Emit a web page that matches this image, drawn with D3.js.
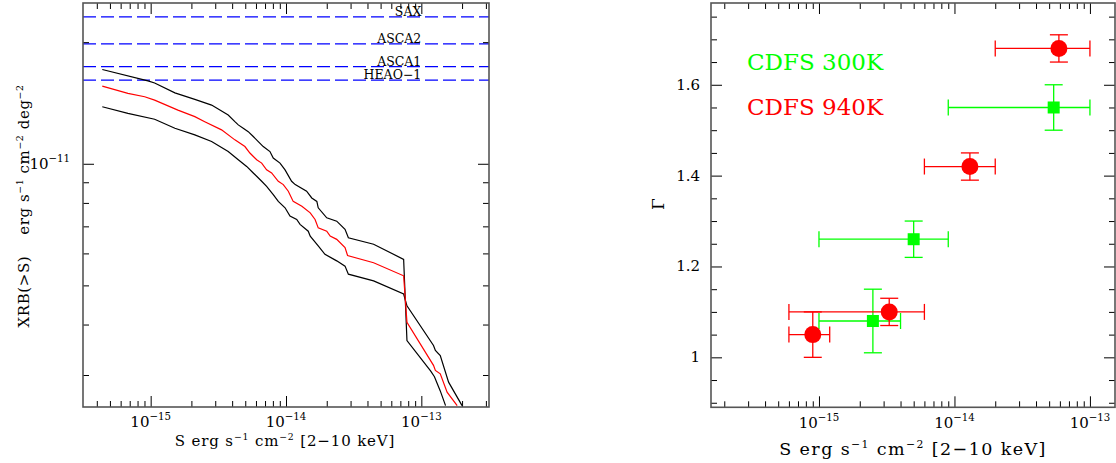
<!DOCTYPE html>
<html>
<head>
<meta charset="utf-8">
<script src="https://cdn.jsdelivr.net/npm/d3@7"></script>
<style>
body { margin: 0; background: #fff; }
text { font-family: "DejaVu Serif", serif; fill: #000; }
</style>
</head>
<body>
<div id="chart"></div>
<script>
// ---- left panel: resolved XRB(>S), values of XRB in units of 1e-11 erg/s/cm2/deg2
var XRB_UNIT = 1e-11;

var hiS = [4.39e-16, 9.55e-16, 1.07e-15, 1.51e-15, 2.12e-15, 2.82e-15, 3.74e-15, 4.19e-15, 4.44e-15, 4.83e-15,
    5.26e-15, 5.73e-15, 6.24e-15, 6.79e-15, 7.61e-15, 8.05e-15, 9.03e-15, 9.84e-15, 1.10e-14, 1.17e-14,
    1.42e-14, 1.55e-14, 1.69e-14, 1.73e-14, 2.00e-14, 2.37e-14, 2.73e-14, 2.89e-14, 4.44e-14, 7.40e-14,
    7.83e-14, 1.17e-13, 1.25e-13, 1.38e-13, 1.51e-13];
var hiXRB = [1.711, 1.604, 1.585, 1.498, 1.443, 1.397, 1.320, 1.271, 1.248, 1.224,
    1.201, 1.168, 1.135, 1.103, 1.072, 1.033, 1.004, 0.966, 0.905, 0.888,
    0.855, 0.823, 0.807, 0.778, 0.735, 0.721, 0.688, 0.656, 0.632, 0.580,
    0.365, 0.307, 0.297, 0.274, 0.252];

var midS = [4.39e-16, 6.79e-16, 9.03e-16, 1.07e-15, 1.59e-15, 2.12e-15, 2.51e-15, 3.34e-15, 4.19e-15, 4.97e-15,
    5.41e-15, 6.07e-15, 6.61e-15, 7.19e-15, 7.83e-15, 8.77e-15, 9.55e-15, 1.04e-14, 1.13e-14, 1.31e-14,
    1.51e-14, 1.64e-14, 1.73e-14, 2.00e-14, 2.12e-14, 2.37e-14, 2.73e-14, 2.85e-14, 4.44e-14, 7.40e-14,
    7.83e-14, 1.23e-13, 1.27e-13, 1.38e-13, 1.55e-13, 1.84e-13];
var midXRB = [1.556, 1.493, 1.465, 1.437, 1.358, 1.308, 1.271, 1.213, 1.146, 1.103,
    1.063, 1.023, 1.004, 0.966, 0.949, 0.905, 0.888, 0.855, 0.807, 0.785,
    0.756, 0.728, 0.694, 0.681, 0.662, 0.650, 0.620, 0.593, 0.569, 0.528,
    0.405, 0.317, 0.308, 0.302, 0.272, 0.252];

var loS = [4.39e-16, 6.79e-16, 1.07e-15, 1.51e-15, 2.12e-15, 2.82e-15, 3.74e-15, 4.44e-15, 5.12e-15, 5.73e-15,
    6.61e-15, 7.19e-15, 8.05e-15, 8.77e-15, 9.84e-15, 1.07e-14, 1.20e-14, 1.27e-14, 1.46e-14, 1.51e-14,
    1.73e-14, 1.94e-14, 2.37e-14, 2.73e-14, 2.89e-14, 4.44e-14, 7.40e-14, 7.83e-14, 1.23e-13, 1.27e-13,
    1.38e-13, 1.59e-13, 2.00e-13];
var loXRB = [1.384, 1.333, 1.289, 1.224, 1.179, 1.135, 1.072, 1.023, 0.985, 0.949,
    0.905, 0.879, 0.839, 0.807, 0.778, 0.742, 0.728, 0.708, 0.681, 0.662,
    0.626, 0.597, 0.575, 0.558, 0.533, 0.513, 0.476, 0.445, 0.355, 0.345,
    0.335, 0.288, 0.252];

// total XRB normalisations from the various missions
var missionNames = ["SAX", "ASCA2", "ASCA1", "HEAO\u22121"];
var missionXRB = [2.31, 1.98, 1.74, 1.61];

// ---- right panel: photon index vs flux
var c940S = [9e-16, 3.3e-15, 1.3e-14, 5.9e-14];
var c940Slo = [6e-16, 6e-16, 6e-15, 2e-14];
var c940Shi = [1.2e-15, 6e-15, 2e-14, 1e-13];
var c940G = [1.05, 1.10, 1.42, 1.68];
var c940Glo = [1.00, 1.07, 1.39, 1.65];
var c940Ghi = [1.10, 1.13, 1.45, 1.71];

var c300S = [2.5e-15, 5e-15, 5.4e-14];
var c300Slo = [1e-15, 1e-15, 9e-15];
var c300Shi = [4e-15, 9e-15, 1e-13];
var c300G = [1.08, 1.26, 1.55];
var c300Glo = [1.01, 1.22, 1.50];
var c300Ghi = [1.15, 1.30, 1.60];

var legendLabels = ["CDFS 300K", "CDFS 940K"];
var gammaTicks = [1, 1.2, 1.4, 1.6];

var width = 1116, height = 463;
var svg = d3.select("#chart").append("svg")
    .attr("width", width)
    .attr("height", height);

var MAJ = 11, MIN = 6;

function isDecade(v) {
    var l = Math.log10(v);
    return Math.abs(l - Math.round(l)) < 1e-6;
}

// draws "10" with a superscript exponent inside a text element
function powLabel(t, exp, size) {
    t.text(null);
    t.append("tspan").text("10");
    t.append("tspan").attr("dy", -size * 0.45).style("font-size", (size * 0.68) + "px").text("\u2212" + Math.abs(exp));
}

// four-sided inward ticks
function frameTicks(g, x, y, xMaj, xMin, yMaj, yMin) {
    var x0 = x.range()[0], x1 = x.range()[1];
    var y0 = y.range()[0], y1 = y.range()[1];
    var axes = [
        [d3.axisBottom(x), y0, 0, xMaj, xMin],
        [d3.axisTop(x), y1, 0, xMaj, xMin],
        [d3.axisLeft(y), x0, 1, yMaj, yMin],
        [d3.axisRight(y), x1, 1, yMaj, yMin]
    ];
    axes.forEach(function (a) {
        [[a[3], MAJ], [a[4], MIN]].forEach(function (p) {
            var ax = a[0].tickValues(p[0]).tickSize(-p[1]).tickFormat("");
            g.append("g")
                .attr("transform", a[2] ? "translate(" + a[1] + ",0)" : "translate(0," + a[1] + ")")
                .call(ax)
                .call(function (s) {
                    s.select(".domain").remove();
                    s.selectAll("line").attr("stroke", "#000").attr("stroke-width", 1);
                    s.selectAll("text").remove();
                });
        });
    });
    g.append("rect")
        .attr("x", x0).attr("y", y1)
        .attr("width", x1 - x0).attr("height", y0 - y1)
        .attr("fill", "none")
        .attr("stroke", "#555")
        .attr("stroke-width", 1.6);
}

// text with small raised exponents; parts = [[str, isSup], ...]
function unitTitle(t, parts, size) {
    var shift = size * 0.42, up = false;
    parts.forEach(function (p) {
        var ts = t.append("tspan").text(p[0]);
        if (p[1]) {
            ts.attr("dy", -shift).style("font-size", (size * 0.62) + "px");
            up = true;
        } else if (up) {
            ts.attr("dy", shift);
            up = false;
        }
    });
}

// ================= left panel =================
var xL = d3.scaleLog().domain([Math.pow(10, -15.5), Math.pow(10, -12.5)]).range([83, 489]);
var yL = d3.scaleLog().domain([2.5e-12, 2.5e-11]).range([407, 3]);

var gL = svg.append("g");
gL.append("clipPath").attr("id", "clipL").append("rect")
    .attr("x", 83).attr("y", 3).attr("width", 406).attr("height", 404);

var xTicksL = xL.ticks();
var yTicksL = yL.ticks();

var plotL = gL.append("g").attr("clip-path", "url(#clipL)");

// mission levels
missionXRB.forEach(function (v, i) {
    plotL.append("line")
        .attr("x1", xL.range()[0]).attr("x2", xL.range()[1])
        .attr("y1", yL(v * XRB_UNIT)).attr("y2", yL(v * XRB_UNIT))
        .attr("stroke", "#0000ff")
        .attr("stroke-width", 1.2)
        .attr("stroke-dasharray", "13,5");
    gL.append("text")
        .attr("x", xL(1e-13))
        .attr("y", yL(v * XRB_UNIT) - 1)
        .attr("text-anchor", "end")
        .style("font-size", "12.5px")
        .text(missionNames[i]);
});

var line = d3.line()
    .x(function (d) { return xL(d[0]); })
    .y(function (d) { return yL(d[1] * XRB_UNIT); });

[[hiS, hiXRB, "#000"], [loS, loXRB, "#000"], [midS, midXRB, "#ff0000"]].forEach(function (c) {
    plotL.append("path")
        .datum(d3.zip(c[0], c[1]))
        .attr("d", line)
        .attr("fill", "none")
        .attr("stroke", c[2])
        .attr("stroke-width", 1.2);
});

frameTicks(gL, xL, yL,
    xTicksL.filter(isDecade), xTicksL.filter(function (d) { return !isDecade(d); }),
    yTicksL.filter(isDecade), yTicksL.filter(function (d) { return !isDecade(d); }));

// tick labels
xTicksL.filter(isDecade).forEach(function (d) {
    var t = gL.append("text")
        .attr("x", xL(d)).attr("y", 427)
        .attr("text-anchor", "middle")
        .style("font-size", "15px");
    powLabel(t, Math.round(Math.log10(d)), 15);
});
yTicksL.filter(isDecade).forEach(function (d) {
    var t = gL.append("text")
        .attr("x", 70).attr("y", yL(d) + 5)
        .attr("text-anchor", "end")
        .style("font-size", "15px");
    powLabel(t, Math.round(Math.log10(d)), 15);
});

// axis titles
var xtL = gL.append("text")
    .attr("x", 285).attr("y", 446)
    .attr("text-anchor", "middle")
    .style("font-size", "15px")
    .style("letter-spacing", "0.85px");
unitTitle(xtL, [["S erg s"], ["\u22121", 1], [" cm"], ["\u22122", 1], [" [2\u221210 keV]"]], 15);

var ytL = gL.append("text")
    .attr("transform", "translate(29,206) rotate(-90)")
    .attr("text-anchor", "middle")
    .style("font-size", "15px")
    .style("letter-spacing", "0.6px");
unitTitle(ytL, [["XRB(>S)\u2003 erg s"], ["\u22121", 1], [" cm"], ["\u22122", 1], [" deg"], ["\u22122", 1]], 15);

// ================= right panel =================
var xR = d3.scaleLog().domain([Math.pow(10, -15.797), Math.pow(10, -12.815)]).range([711, 1115]);
var yR = d3.scaleLinear().domain([0.89, 1.78]).range([407.3, 3]);

var gR = svg.append("g");
var xTicksR = xR.ticks();
var yMinorR = d3.range(0.9, 1.78, 0.05).filter(function (d) {
    return !gammaTicks.some(function (m) { return Math.abs(m - d) < 1e-6; });
});

frameTicks(gR, xR, yR,
    xTicksR.filter(isDecade), xTicksR.filter(function (d) { return !isDecade(d); }),
    gammaTicks, yMinorR);

xTicksR.filter(isDecade).forEach(function (d) {
    var t = gR.append("text")
        .attr("x", xR(d)).attr("y", 428)
        .attr("text-anchor", "middle")
        .style("font-size", "15px");
    powLabel(t, Math.round(Math.log10(d)), 15);
});
gammaTicks.forEach(function (d) {
    gR.append("text")
        .attr("x", 700).attr("y", yR(d) + 5)
        .attr("text-anchor", "end")
        .style("font-size", "15px")
        .text(d3.format("")(d));
});

var xtR = gR.append("text")
    .attr("x", 913).attr("y", 455)
    .attr("text-anchor", "middle")
    .style("font-size", "17.5px")
    .style("letter-spacing", "1.4px");
unitTitle(xtR, [["S erg s"], ["\u22121", 1], [" cm"], ["\u22122", 1], [" [2\u221210 keV]"]], 17.5);

gR.append("text")
    .attr("transform", "translate(664,204) rotate(-90)")
    .attr("text-anchor", "middle")
    .style("font-size", "17px")
    .text("\u0393");

// error bars + markers
function errPoints(S, Slo, Shi, G, Glo, Ghi, color, shape) {
    var g = gR.append("g").attr("stroke", color).attr("stroke-width", 1.3);
    S.forEach(function (s, i) {
        var cx = xR(s), cy = yR(G[i]);
        var xa = xR(Slo[i]), xb = xR(Shi[i]);
        var ya = yR(Glo[i]), yb = yR(Ghi[i]);
        g.append("line").attr("x1", xa).attr("x2", xb).attr("y1", cy).attr("y2", cy);
        g.append("line").attr("x1", xa).attr("x2", xa).attr("y1", cy - 8).attr("y2", cy + 8);
        g.append("line").attr("x1", xb).attr("x2", xb).attr("y1", cy - 8).attr("y2", cy + 8);
        g.append("line").attr("x1", cx).attr("x2", cx).attr("y1", ya).attr("y2", yb);
        g.append("line").attr("x1", cx - 9).attr("x2", cx + 9).attr("y1", ya).attr("y2", ya);
        g.append("line").attr("x1", cx - 9).attr("x2", cx + 9).attr("y1", yb).attr("y2", yb);
    });
    S.forEach(function (s, i) {
        var cx = xR(s), cy = yR(G[i]);
        if (shape === "circle") {
            gR.append("circle").attr("cx", cx).attr("cy", cy).attr("r", 8.5).attr("fill", color);
        } else {
            gR.append("rect").attr("x", cx - 6).attr("y", cy - 6).attr("width", 12).attr("height", 12).attr("fill", color);
        }
    });
}

errPoints(c300S, c300Slo, c300Shi, c300G, c300Glo, c300Ghi, "#00ff00", "square");
errPoints(c940S, c940Slo, c940Shi, c940G, c940Glo, c940Ghi, "#ff0000", "circle");

// legend
[["#00ff00", 70], ["#ff0000", 115]].forEach(function (p, i) {
    gR.append("text")
        .attr("x", 747).attr("y", p[1])
        .style("font-size", "23px")
        .style("fill", p[0])
        .text(legendLabels[i]);
});
</script>
</body>
</html>
